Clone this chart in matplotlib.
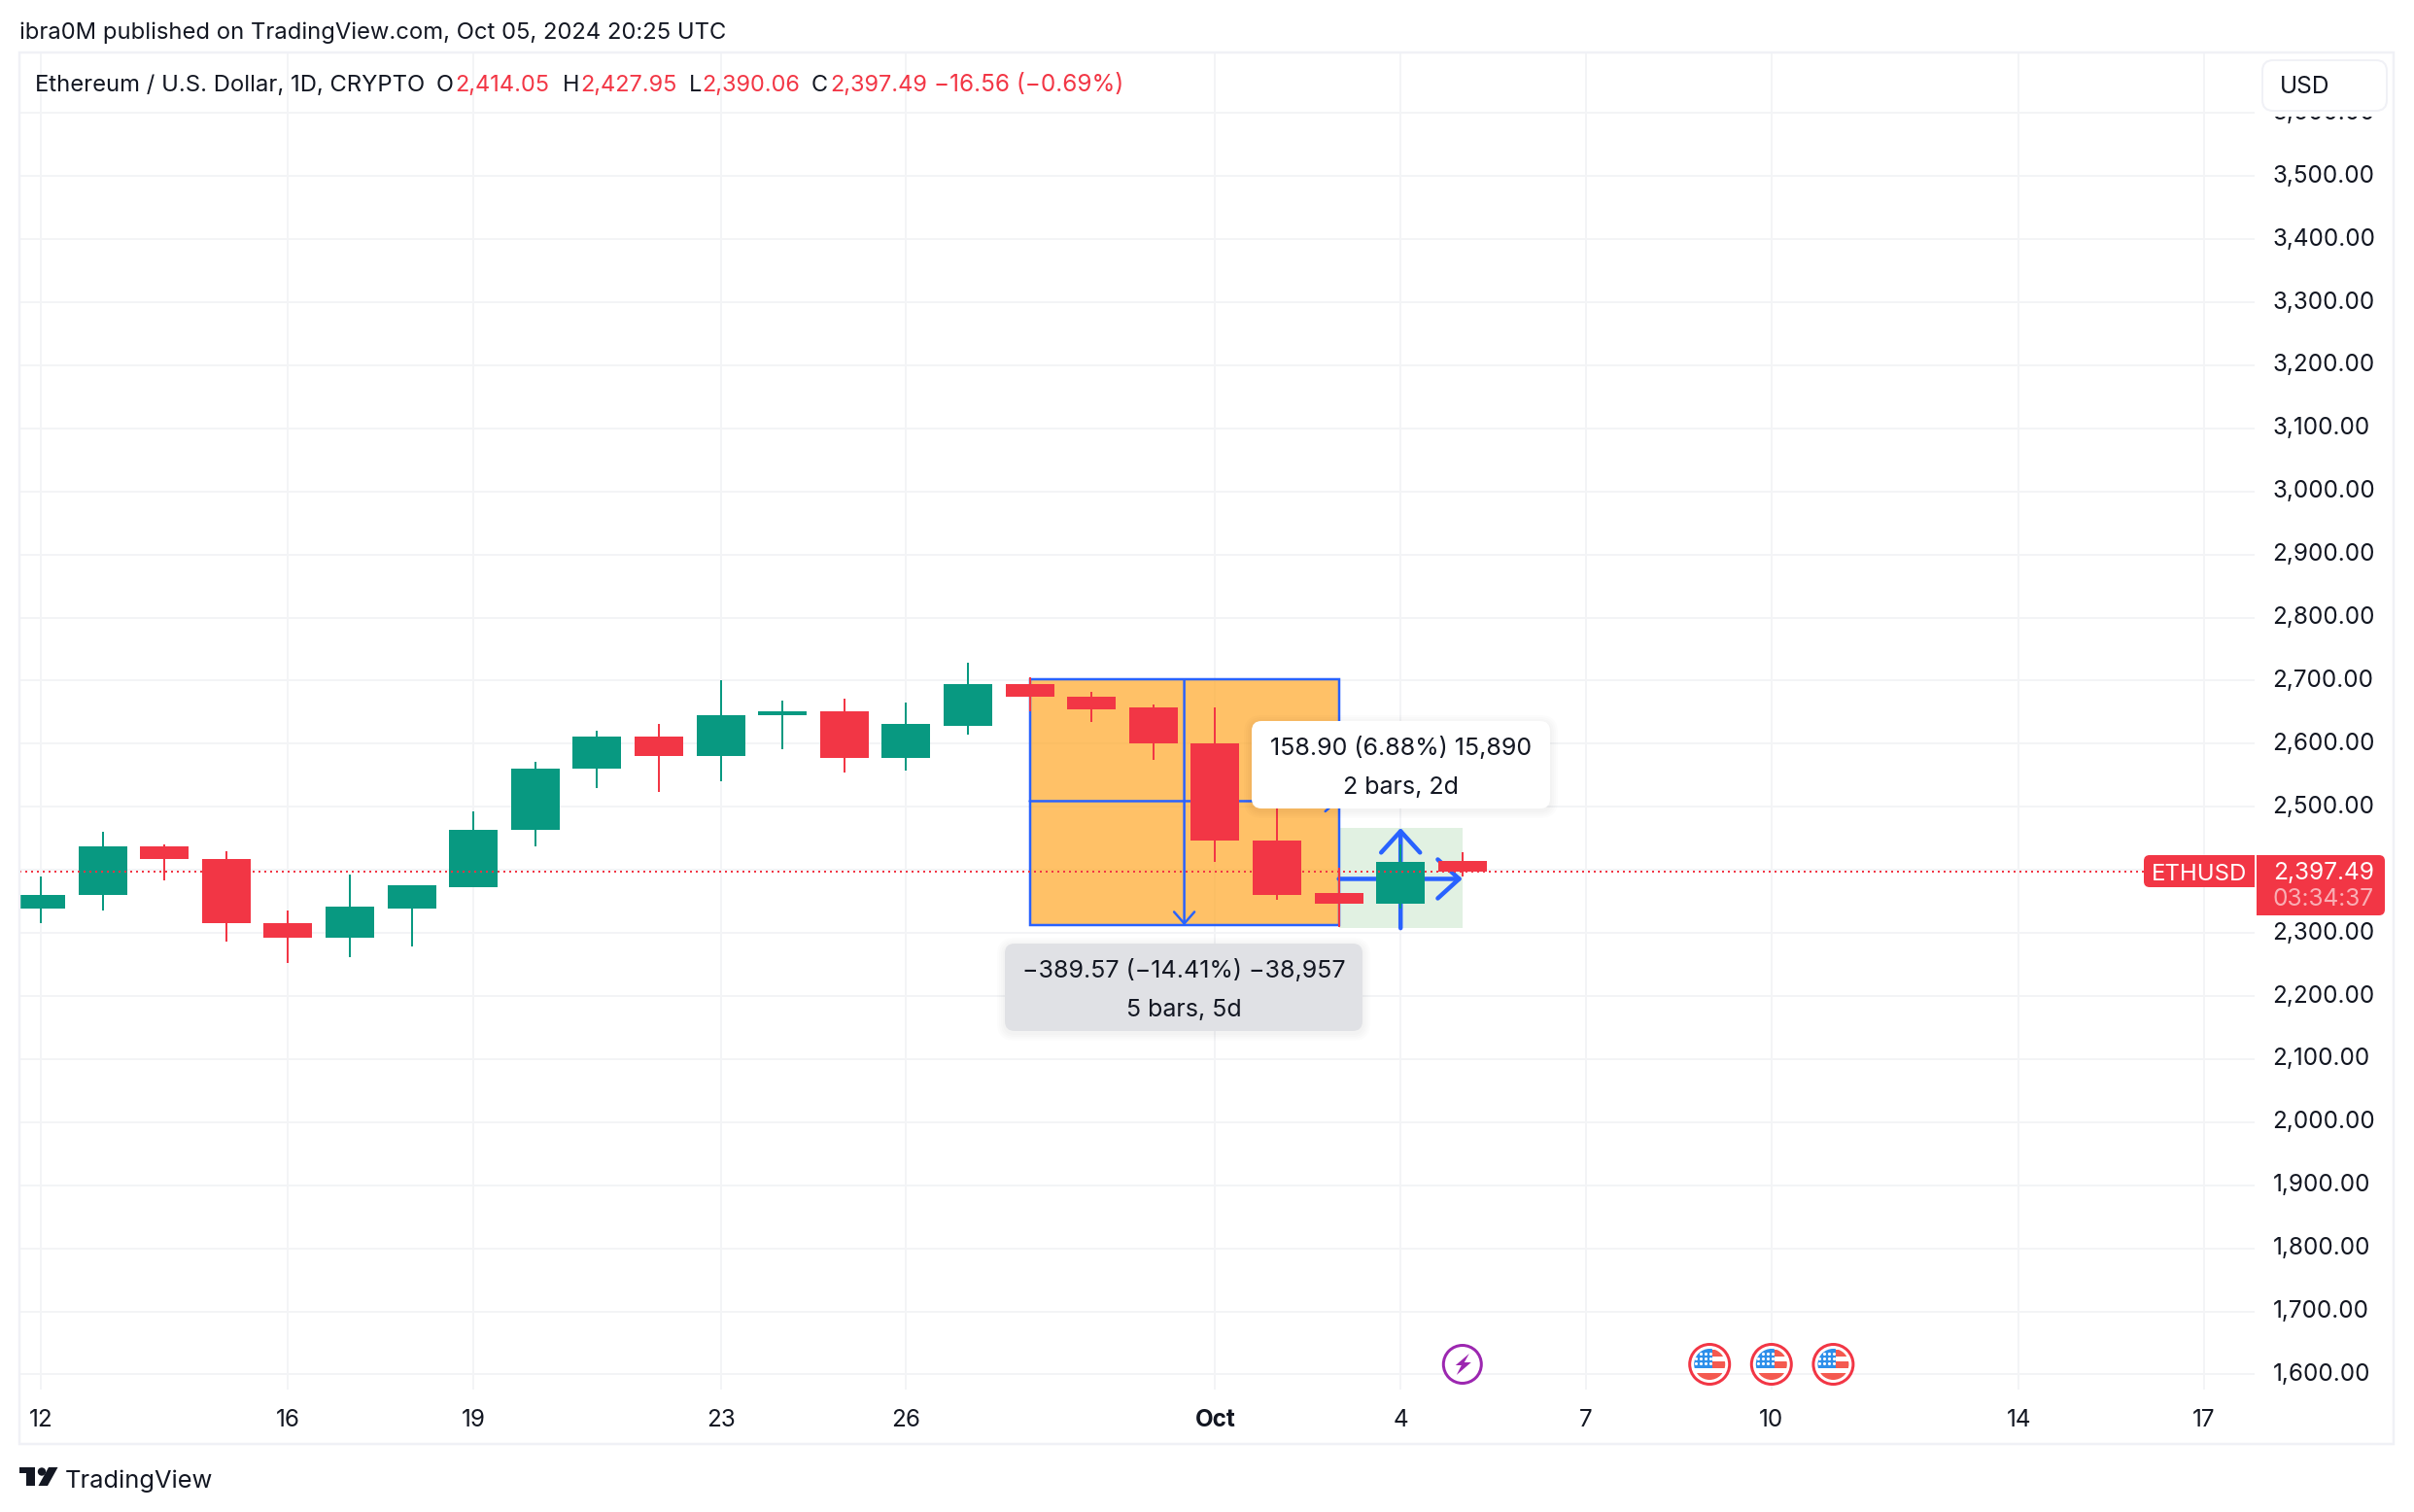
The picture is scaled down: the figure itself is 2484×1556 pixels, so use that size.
import matplotlib
matplotlib.use('Agg')
import matplotlib.pyplot as plt
from matplotlib.patches import FancyBboxPatch, Circle, Rectangle, Polygon

plt.rcParams['font.family'] = ['Inter', 'DejaVu Sans']

# Daily candles, Sep 12 to Oct 5 2024
days = list(range(24))
opens = [2338, 2360, 2438, 2418, 2316, 2293, 2339, 2373, 2463, 2560, 2612, 2580,
         2645, 2652, 2578, 2629, 2694, 2675, 2657, 2601, 2447, 2363, 2347, 2414.05]
closes = [2361, 2438, 2416.5, 2315, 2293, 2341, 2375, 2464, 2561, 2612, 2580, 2646,
          2652, 2578, 2631, 2694, 2674, 2655, 2600, 2446, 2361, 2347, 2413, 2397.49]
highs = [2390, 2461, 2441, 2430, 2335, 2392, 2375, 2492, 2571, 2621, 2631, 2701.5,
         2669, 2672, 2665, 2728, 2705, 2683, 2663, 2657, 2499, 2403, 2441, 2427.95]
lows = [2316, 2336, 2384, 2287, 2253, 2262, 2278, 2372, 2438, 2529, 2524, 2540,
        2591, 2555, 2558, 2615, 2651, 2634, 2575, 2413, 2353, 2310, 2339, 2390.06]

last_price = 2397.49
price_ticks = list(range(1600, 3700, 100))
date_ticks = [0, 4, 7, 11, 14, 19, 22, 25, 28, 32, 35]
date_labels = ['12', '16', '19', '23', '26', 'Oct', '4', '7', '10', '14', '17']

# Long position / date-price range drawings
range_box = (16, 21, 2312, 2701.6)
range_mid_price = 2509
range_mid_day = 18.5
gain_box = (21, 23, 2307.65, 2466.55)
gain_mid_price = 2385.7
gain_mid_day = 22

flag_days = [27, 28, 29]
bolt_day = 23

GREEN = '#089981'
RED = '#F23645'
BLUE = '#2962FF'
INK = '#131722'
GRID = '#F3F4F6'
FRAME = '#F0F1F6'

W, H = 2484, 1556
PX = 0.72  # points per pixel at dpi 100


# pixel position of a day
def xpx(d):
    return 42 + 63.6 * d


def price_at(y):
    return 2700 - (y - 700.5) / 0.649


def day_at(x):
    return (x - 42) / 63.6


fig = plt.figure(figsize=(W / 100, H / 100), dpi=100, facecolor='white')

# main pane
L, R, T, B = 20, 2320, 54, 1430
ax = fig.add_axes([L / W, 1 - B / H, (R - L) / W, (B - T) / H])
ax.set_xlim(day_at(L), day_at(R))
ax.set_ylim(price_at(B), price_at(T))
for s in ax.spines.values():
    s.set_visible(False)
ax.set_axisbelow(True)
ax.grid(True, color=GRID, linewidth=2 * PX)
ax.yaxis.tick_right()
ax.set_yticks(price_ticks)
ax.set_yticklabels([f'{p:,.2f}' for p in price_ticks], va='center')
ax.set_xticks(date_ticks)
ax.set_xticklabels(date_labels)
ax.tick_params(axis='both', length=0, labelsize=24.2 * PX, labelcolor=INK)
ax.tick_params(axis='y', pad=18.5 * PX)
ax.tick_params(axis='x', pad=20.5 * PX)
ax.get_xticklabels()[5].set_fontweight('bold')

# range boxes
x0, x1, y0, y1 = range_box
ax.add_patch(Rectangle((x0, y0), x1 - x0, y1 - y0, facecolor='#FFA726', alpha=0.7,
                       edgecolor='none', zorder=2))
ax.add_patch(Rectangle((x0, y0), x1 - x0, y1 - y0, facecolor='none', edgecolor=BLUE,
                       linewidth=2.5 * PX, zorder=2.5))
gx0, gx1, gy0, gy1 = gain_box
ax.add_patch(Rectangle((gx0, gy0), gx1 - gx0, gy1 - gy0, facecolor='#E1F1E2',
                       edgecolor='none', zorder=1.8))


def arrow(start, end, lw, hl, hw):
    ax.annotate('', xy=end, xytext=start, zorder=3,
                arrowprops=dict(arrowstyle=f'->,head_length={hl},head_width={hw}',
                                mutation_scale=1, color=BLUE, lw=lw, shrinkA=0, shrinkB=0,
                                capstyle='round', joinstyle='round'))


arrow((range_mid_day, y1), (range_mid_day, y0), 2.5 * PX, 12 * PX, 10.5 * PX)
arrow((x0, range_mid_price), (x1, range_mid_price), 2.5 * PX, 12 * PX, 10.5 * PX)
arrow((gain_mid_day, gy0), (gain_mid_day, gy1), 4.5 * PX, 22 * PX, 20 * PX)
arrow((gx0, gain_mid_price), (gx1, gain_mid_price), 4.5 * PX, 22 * PX, 20 * PX)

# candles
colors = [GREEN if c >= o else RED for o, c in zip(opens, closes)]
ax.vlines(days, lows, highs, colors=colors, linewidth=2 * PX, zorder=4)
ax.bar(days, [abs(c - o) for o, c in zip(opens, closes)],
       bottom=[min(o, c) for o, c in zip(opens, closes)],
       width=50 / 63.6, color=colors, linewidth=0, zorder=4.5)

# last price line, stops at the ETHUSD tag
ax.plot([day_at(L), day_at(2206)], [last_price, last_price], color=RED,
        linewidth=2 * PX, linestyle=(0, (1, 2)), zorder=5)

# overlay in pixel coordinates for the page furniture
ov = fig.add_axes([0, 0, 1, 1])
ov.set_xlim(0, W)
ov.set_ylim(H, 0)
ov.axis('off')
ov.patch.set_visible(False)

ov.add_patch(Rectangle((L, T), 2463 - L, 1486 - T, facecolor='none', edgecolor=FRAME,
                       linewidth=2.5 * PX))


def rbox(x0, y0, x1, y1, r, fc, ec='none', lw=0, alpha=None, z=3):
    p = FancyBboxPatch((x0 + r, y0 + r), x1 - x0 - 2 * r, y1 - y0 - 2 * r,
                       boxstyle=f'round,pad={r},rounding_size={r}', facecolor=fc, edgecolor=ec,
                       linewidth=lw, alpha=alpha, zorder=z)
    ov.add_patch(p)


def label(x, y, s, color=INK, size=24, ha='left', weight='normal', z=6, alpha=None):
    ov.text(x, y, s, color=color, fontsize=size * PX, ha=ha, va='center_baseline',
            fontweight=weight, zorder=z, alpha=alpha)


# header and legend
label(20, 31.5, 'ibra0M published on TradingView.com, Oct 05, 2024 20:25 UTC', size=23.8)
label(36.5, 85, 'Ethereum / U.S. Dollar, 1D, CRYPTO', size=23.8)
for x, s in [(449, 'O'), (579, 'H'), (709, 'L'), (835, 'C')]:
    label(x, 85, s, size=23.5)
for x, s in [(468, '2,414.05'), (597, '2,427.95'), (722, '2,390.06'), (854, '2,397.49')]:
    label(x, 85, s, color=RED, size=23.5)
label(961, 85, '\u221216.56 (\u22120.69%)', color=RED, size=24.3)

# USD box sits on the clipped 3,600 label
ov.add_patch(Rectangle((2325, 100), 135, 20, facecolor='white', edgecolor='none', zorder=2.5))
rbox(2328, 62, 2456, 114, 11, 'white', ec=FRAME, lw=2 * PX)
label(2346, 87, 'USD', size=24.5)

# price tags
rbox(2206, 880, 2260, 913, 6, RED)
ov.add_patch(Rectangle((2230, 880), 90, 33, facecolor=RED, edgecolor='none', zorder=3))
label(2263, 897, 'ETHUSD', color='white', ha='center', size=24)
rbox(2380, 880, 2454, 942, 6, RED)
ov.add_patch(Rectangle((2322, 880), 100, 62, facecolor=RED, edgecolor='none', zorder=3))
label(2391, 895.5, '2,397.49', color='white', ha='center', size=24.5)
label(2391, 922.5, '03:34:37', color='white', ha='center', alpha=0.6, size=24.5)


# tooltips
def tooltip(x0, y0, x1, y1, fc, lines, alpha=None):
    for grow in range(8, 0, -2):
        rbox(x0 - grow, y0 - grow + 2, x1 + grow, y1 + grow + 2, 10 + grow, 'black',
             alpha=0.012, z=3.5)
    rbox(x0, y0, x1, y1, 10, fc, alpha=alpha, z=4)
    cx = (x0 + x1) / 2
    label(cx, y0 + 25.7, lines[0], ha='center', size=25)
    label(cx, y0 + 65.7, lines[1], ha='center', size=25)


tooltip(1288, 742, 1595, 832, 'white', ['158.90 (6.88%) 15,890', '2 bars, 2d'])
tooltip(1034, 971, 1402, 1061, '#E0E1E5', ['\u2212389.57 (\u221214.41%) \u221238,957', '5 bars, 5d'],
        alpha=0.97)

# economic event icons
for d in flag_days:
    cx, cy = xpx(d), 1404
    ov.add_patch(Circle((cx, cy), 20.5, facecolor='white', edgecolor=RED, linewidth=3 * PX, zorder=3))
    disc = Circle((cx, cy), 16, transform=ov.transData)
    parts = [Rectangle((cx + 3, cy - 15), 14, 7, facecolor='#F4594F', edgecolor='none'),
             Rectangle((cx + 3, cy - 3), 14, 7, facecolor='#F4594F', edgecolor='none'),
             Rectangle((cx - 17, cy + 9), 34, 9, facecolor='#F4594F', edgecolor='none'),
             Rectangle((cx - 17, cy - 17), 20, 21, facecolor='#2D8FEA', edgecolor='none')]
    for p in parts:
        p.set_zorder(3.2)
        ov.add_patch(p)
        p.set_clip_path(disc)
    for row, dy in enumerate([-11, -6, -1]):
        xs = [-8, -3, 2] if row == 0 else [-13, -8, -3, 2]
        ov.scatter([cx + v - 1 for v in xs], [cy + dy] * len(xs), s=5, color='white',
                   linewidths=0, zorder=3.4)

cx, cy = xpx(bolt_day), 1404
ov.add_patch(Circle((cx, cy), 19.5, facecolor='white', edgecolor='#9C27B0', linewidth=3 * PX, zorder=3))
ov.add_patch(Polygon([(cx + 7, cy - 11), (cx - 7, cy + 1), (cx - 1, cy + 1), (cx - 6, cy + 11),
                      (cx + 9, cy - 2), (cx + 2, cy - 2)], closed=True, facecolor='#9C27B0',
                     edgecolor='none', zorder=3.2))

# TradingView logo
ov.add_patch(Polygon([(20, 1510), (36, 1510), (36, 1529), (27, 1529), (27, 1516), (20, 1516)],
                     closed=True, facecolor=INK, edgecolor='none'))
ov.add_patch(Circle((43, 1514.5), 4.2, facecolor=INK, edgecolor='none'))
ov.add_patch(Polygon([(50, 1510), (59.5, 1510), (49, 1529), (39.5, 1529)], closed=True,
                     facecolor=INK, edgecolor='none'))
label(66.5, 1521.5, 'TradingView', size=25.5)

fig.savefig('out.png', dpi=100)
